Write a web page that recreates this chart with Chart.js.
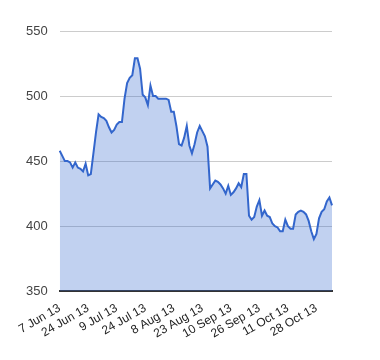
<!DOCTYPE html>
<html lang="en">
<head>
    <meta charset="UTF-8">
    <title>Price chart</title>
    <style>
        body {
            margin: 0;
            background: #fff;
        }

        .chart-container {
            width: 380px;
            height: 360px;
        }
    </style>
</head>
<body>
    <div class="chart-container">
        <canvas id="priceChart" width="380" height="360"></canvas>
    </div>

    <script src="https://cdn.jsdelivr.net/npm/chart.js"></script>
    <script>
        // Daily values
        const prices = [
            458, 454, 450, 450, 449, 445, 449, 445, 444, 442,
            448, 439, 440, 456, 472, 486, 484, 483, 481, 476,
            472, 474, 478, 480, 480, 498, 510, 514, 516, 529,
            529, 521, 501, 499, 493, 508, 500, 500, 498, 498,
            498, 498, 497, 488, 488, 477, 463, 462, 468, 477,
            462, 456, 463, 472, 477, 473, 469, 461, 429, 432,
            435, 434, 432, 429, 425, 431, 424, 426, 429, 433,
            430, 440, 440, 408, 405, 407, 415, 420, 408, 412,
            408, 407, 402, 400, 399, 396, 396, 405, 400, 398,
            398, 409, 411, 412, 411, 409, 404, 396, 390, 394,
            406, 411, 413, 419, 422, 416
        ];

        // Date labels shown every 11 points
        const tickLabels = ['7 Jun 13', '24 Jun 13', '9 Jul 13', '24 Jul 13', '8 Aug 13',
            '23 Aug 13', '10 Sep 13', '26 Sep 13', '11 Oct 13', '28 Oct 13'];
        const tickEvery = 11;

        const yTicks = [350, 400, 450, 500, 550];

        const categories = prices.map((p, i) =>
            i % tickEvery === 0 && tickLabels[i / tickEvery] ? tickLabels[i / tickEvery] : ''
        );

        const ctx = document.getElementById('priceChart').getContext('2d');
        new Chart(ctx, {
            type: 'line',
            data: {
                labels: categories,
                datasets: [{
                    data: prices,
                    borderColor: '#3366cc',
                    backgroundColor: 'rgba(51, 102, 204, 0.3)',
                    borderWidth: 2,
                    pointRadius: 0,
                    tension: 0,
                    fill: 'start'
                }]
            },
            options: {
                responsive: false,
                animation: false,
                layout: {
                    padding: { top: 31, right: 48, bottom: 17, left: 14 }
                },
                plugins: {
                    legend: { display: false },
                    tooltip: { enabled: false }
                },
                scales: {
                    x: {
                        z: 1,
                        grid: { display: false },
                        border: { display: true, color: '#333', width: 2 },
                        ticks: {
                            autoSkip: false,
                            minRotation: 30,
                            maxRotation: 30,
                            padding: 2,
                            color: '#222',
                            font: { family: 'Arial, "Liberation Sans", sans-serif', size: 12 },
                            callback: function (value) {
                                const label = this.getLabelForValue(value);
                                return label === '' ? null : label;
                            }
                        }
                    },
                    y: {
                        min: yTicks[0],
                        max: yTicks[yTicks.length - 1],
                        afterBuildTicks: axis => {
                            axis.ticks = yTicks.map(v => ({ value: v }));
                        },
                        grid: {
                            color: c => c.tick && c.tick.value === yTicks[0] ? 'rgba(0,0,0,0)' : '#ccc',
                            drawTicks: false
                        },
                        border: { display: false },
                        ticks: {
                            padding: 12,
                            color: '#444',
                            font: { family: 'Arial, "Liberation Sans", sans-serif', size: 13 }
                        }
                    }
                }
            }
        });
    </script>
</body>
</html>
